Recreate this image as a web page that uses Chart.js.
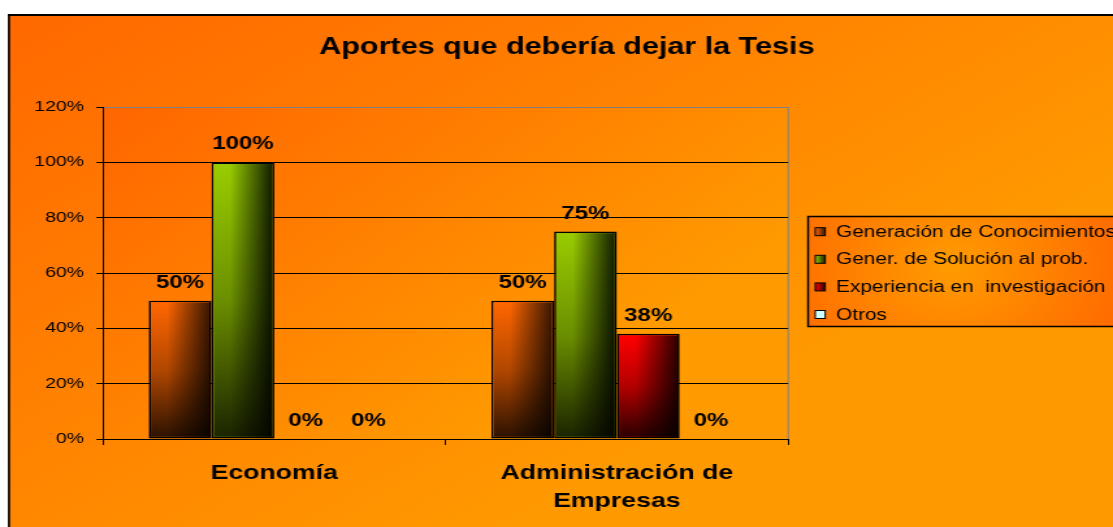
<!DOCTYPE html>
<html lang="es">
<head>
<meta charset="utf-8">
<title>Aportes que debería dejar la Tesis</title>
<script src="https://cdn.jsdelivr.net/npm/chart.js@4.4.1/dist/chart.umd.min.js"></script>
<style>
html, body { margin: 0; padding: 0; background: #fff; }
#marco { width: 1113px; height: 527px; overflow: hidden; }
/* el original está estirado en horizontal, así que se estira el lienzo igual */
#grafico { display: block; width: 856px; height: 527px; transform: scaleX(1.3002); transform-origin: 0 0; }
</style>
</head>
<body>
<div id="marco"><canvas id="grafico" width="856" height="527"></canvas></div>
<script>
// Datos del gráfico
var categorias = ['Economía', ['Administración de', 'Empresas']];
var serieConocimientos = [0.50, 0.50];
var serieSolucion = [1.00, 0.75];
var serieInvestigacion = [0.00, 0.38];
var serieOtros = [0.00, 0.00];
var nombresSeries = ['Generación de Conocimientos', 'Gener. de Solución al prob.', 'Experiencia en  investigación', 'Otros'];
var marcasEjeY = [0, 0.2, 0.4, 0.6, 0.8, 1.0, 1.2];
var titulo = 'Aportes que debería dejar la Tesis';

// Colores de las series (claro arriba a la izquierda, oscuro en el borde derecho)
var coloresBase = ['#FF6600', '#99CC00', '#FF0000', '#CCFFFF'];
var coloresOscuros = ['#3C1800', '#142000', '#300000', '#7FA0A0'];

var fuente = "'Liberation Sans', Arial, sans-serif";
Chart.defaults.font.family = fuente;
Chart.defaults.color = '#000';

function porcentaje(v) {
    return Math.round(v * 100) + '%';
}

// Fondo naranja, marco negro y área de trazado
var fondoGrafico = {
    id: 'fondoGrafico',
    beforeDraw: function (chart) {
        var c = chart.ctx, a = chart.chartArea, w = chart.width, h = chart.height;
        c.save();
        c.fillStyle = '#FFFFFF';
        c.fillRect(0, 0, w, h);

        var g = c.createLinearGradient(6, 14, w * 0.45, h);
        g.addColorStop(0, '#FF6800');
        g.addColorStop(1, '#FF9900');
        c.fillStyle = g;
        c.fillRect(6.15, 14, w, h);
        c.fillStyle = '#000';
        c.fillRect(6.15, 14, w, 2);
        c.fillRect(6.15, 14, 1.6, h);

        var g2 = c.createLinearGradient(a.left, a.top, a.left + a.width * 0.55, a.bottom);
        g2.addColorStop(0, '#FF6600');
        g2.addColorStop(1, '#FF9A00');
        c.fillStyle = g2;
        c.fillRect(a.left, a.top, a.width, a.height);

        c.strokeStyle = '#808080';
        c.lineWidth = 1;
        c.beginPath();
        c.moveTo(a.right, a.top);
        c.lineTo(a.right, a.bottom);
        c.stroke();
        c.restore();
    }
};

// Relleno degradado de cada barra (encima del color plano)
var degradadoBarras = {
    id: 'degradadoBarras',
    afterDatasetsDraw: function (chart) {
        var c = chart.ctx;
        c.save();
        chart.data.datasets.forEach(function (ds, i) {
            chart.getDatasetMeta(i).data.forEach(function (barra) {
                var p = barra.getProps(['x', 'y', 'base', 'width'], true);
                if (p.base - p.y < 2) return;
                var b = ds.borderWidth;
                var izq = p.x - p.width / 2 + b, der = p.x + p.width / 2 - b;
                var arr = p.y + b, abj = p.base - b;
                var gh = c.createLinearGradient(izq, 0, der, 0);
                gh.addColorStop(0, coloresBase[i]);
                gh.addColorStop(0.28, coloresBase[i]);
                gh.addColorStop(1, coloresOscuros[i]);
                c.fillStyle = gh;
                c.fillRect(izq, arr, der - izq, abj - arr);
                var gv = c.createLinearGradient(0, arr, 0, abj);
                gv.addColorStop(0, 'rgba(0,0,0,0)');
                gv.addColorStop(0.5, 'rgba(0,0,0,0.3)');
                gv.addColorStop(1, 'rgba(0,0,0,0.82)');
                c.fillStyle = gv;
                c.fillRect(izq, arr, der - izq, abj - arr);
            });
        });
        c.restore();
    }
};

// Etiquetas de valor sobre las barras
var etiquetasValor = {
    id: 'etiquetasValor',
    afterDatasetsDraw: function (chart) {
        var c = chart.ctx;
        c.save();
        c.font = 'bold 18.5px ' + fuente;
        c.fillStyle = '#000';
        c.textAlign = 'center';
        c.textBaseline = 'alphabetic';
        chart.data.datasets.forEach(function (ds, i) {
            chart.getDatasetMeta(i).data.forEach(function (barra, j) {
                c.fillText(porcentaje(ds.data[j]), barra.x, barra.y - 13);
            });
        });
        c.restore();
    }
};

// Título y leyenda con recuadro, como en Excel
var tituloLeyenda = {
    id: 'tituloLeyenda',
    afterDraw: function (chart) {
        var c = chart.ctx;
        c.save();
        c.fillStyle = '#000';
        c.font = 'bold 23.5px ' + fuente;
        c.textAlign = 'center';
        c.textBaseline = 'alphabetic';
        c.fillText(titulo, 436, 54);

        var x0 = 621.5, y0 = 216.5, ancho = 260, alto = 110;
        var gr = c.createRadialGradient(x0 + 110, y0 + 50, 5, x0 + 110, y0 + 50, 150);
        gr.addColorStop(0, '#FF9A00');
        gr.addColorStop(1, '#FF6600');
        c.fillStyle = gr;
        c.fillRect(x0, y0, ancho, alto);
        c.strokeStyle = '#000';
        c.lineWidth = 1.5;
        c.strokeRect(x0, y0, ancho, alto);

        c.font = '16px ' + fuente;
        c.textAlign = 'left';
        chart.data.datasets.forEach(function (ds, i) {
            var base = 236.7 + i * 27.6;
            var mx = 627, my = base - 9;
            var gm = c.createLinearGradient(mx, 0, mx + 7.7, 0);
            gm.addColorStop(0, coloresBase[i]);
            gm.addColorStop(1, i === 3 ? coloresBase[i] : coloresOscuros[i]);
            c.fillStyle = gm;
            c.fillRect(mx, my, 7.7, 8);
            c.lineWidth = 1;
            c.strokeRect(mx, my, 7.7, 8);
            c.fillStyle = '#000';
            c.fillText(ds.label, 643, base);
        });
        c.restore();
    }
};

var ctx = document.getElementById('grafico').getContext('2d');

var datos = {
    labels: categorias,
    datasets: [serieConocimientos, serieSolucion, serieInvestigacion, serieOtros].map(function (serie, i) {
        return {
            label: nombresSeries[i],
            data: serie,
            backgroundColor: coloresBase[i],
            borderColor: '#000',
            borderWidth: 1.7,
            borderSkipped: false,
            categoryPercentage: 0.733,
            barPercentage: 1.0
        };
    })
};

var grafico = new Chart(ctx, {
    type: 'bar',
    data: datos,
    options: {
        responsive: false,
        animation: false,
        devicePixelRatio: 1,
        events: [],
        layout: { padding: { top: 107, right: 249.8, bottom: 0, left: 0 } },
        plugins: {
            legend: { display: false },
            title: { display: false },
            tooltip: { enabled: false }
        },
        scales: {
            x: {
                afterFit: function (eje) { eje.height = 88; },
                grid: {
                    offset: true,
                    drawOnChartArea: false,
                    drawTicks: true,
                    tickLength: 6,
                    color: '#000'
                },
                border: { display: true, color: '#000', width: 1 },
                ticks: {
                    font: { size: 20.5, weight: 'bold', lineHeight: 1.35 },
                    color: '#000',
                    padding: 15,
                    maxRotation: 0,
                    autoSkip: false
                }
            },
            y: {
                min: 0,
                max: 1.2,
                afterFit: function (eje) { eje.width = 79.2; },
                afterBuildTicks: function (eje) {
                    eje.ticks = marcasEjeY.map(function (v) { return { value: v }; });
                },
                grid: {
                    color: function (c) { return c.tick && c.tick.value >= 1.2 ? '#808080' : '#000'; },
                    tickColor: '#000',
                    tickLength: 5,
                    lineWidth: 1
                },
                border: { display: true, color: '#000', width: 1 },
                ticks: {
                    font: { size: 15 },
                    color: '#000',
                    padding: 9.5,
                    callback: function (v) { return porcentaje(v); }
                }
            }
        }
    },
    plugins: [fondoGrafico, degradadoBarras, etiquetasValor, tituloLeyenda]
});
</script>
</body>
</html>
